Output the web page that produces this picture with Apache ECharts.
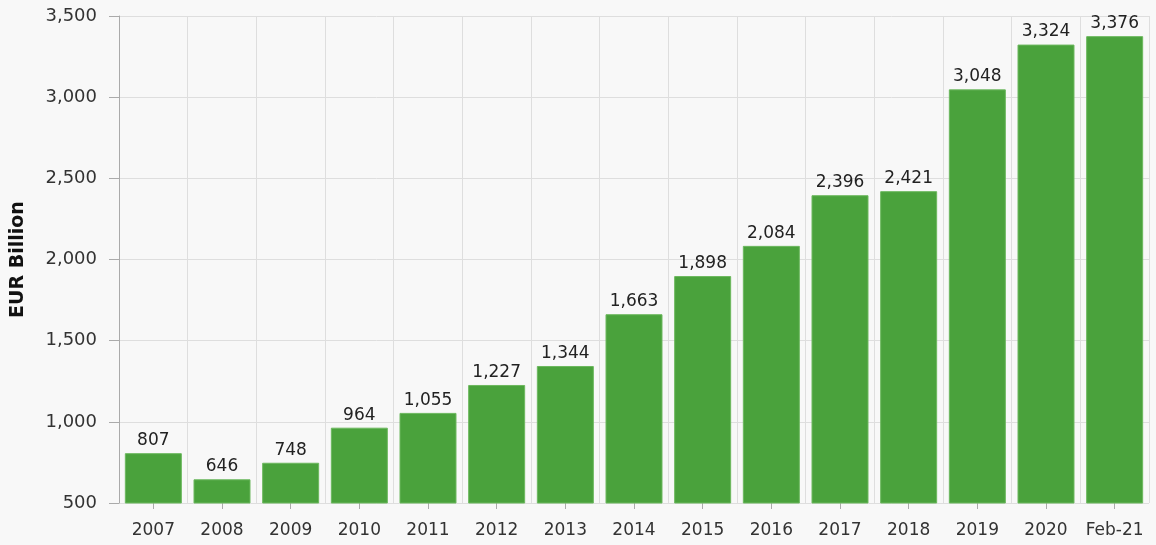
<!DOCTYPE html>
<html>
<head>
<meta charset="utf-8">
<script src="https://cdn.jsdelivr.net/npm/echarts@6/dist/echarts.min.js"></script>
<style>
  html, body { margin: 0; padding: 0; background: #f8f8f8; }
  #chart { width: 1156px; height: 545px; }
</style>
</head>
<body>
<div id="chart"></div>
<script>
const categories = ["2007", "2008", "2009", "2010", "2011", "2012", "2013", "2014", "2015", "2016", "2017", "2018", "2019", "2020", "Feb-21"];
const values = [807, 646, 748, 964, 1055, 1227, 1344, 1663, 1898, 2084, 2396, 2421, 3048, 3324, 3376];

const FONT = "DejaVu Sans";
const chart = echarts.init(document.getElementById("chart"));
const fmt = v => v.toLocaleString("en-US");

chart.setOption({
  backgroundColor: "#f8f8f8",
  animation: false,
  textStyle: { fontFamily: FONT },
  grid: { left: 119, right: 7, top: 16, bottom: 42 },
  xAxis: {
    type: "category",
    data: categories,
    axisLine: { show: false },
    axisTick: { show: true, interval: 0, alignWithLabel: true, length: 6, lineStyle: { color: "#aaa" } },
    axisLabel: { color: "#333", fontSize: 17, fontFamily: FONT, margin: 19, interval: 0 },
    splitLine: { show: true, interval: 0, lineStyle: { color: "#dedede" } }
  },
  yAxis: {
    type: "value",
    min: 500,
    max: 3500,
    interval: 500,
    name: "EUR Billion",
    nameLocation: "middle",
    nameGap: 91,
    nameTextStyle: { color: "#111", fontSize: 19, fontWeight: "bold", fontFamily: FONT },
    axisLine: { show: true, lineStyle: { color: "#aaa" } },
    axisTick: { show: true, length: 10, lineStyle: { color: "#aaa" } },
    axisLabel: { color: "#333", fontSize: 18, fontFamily: FONT, margin: 22, formatter: fmt },
    splitLine: { show: true, lineStyle: { color: "#dedede" } }
  },
  series: [{
    type: "bar",
    data: values,
    barCategoryGap: "17%",
    itemStyle: { color: "#4aa23c", borderColor: "#6cb85e", borderWidth: 1 },
    label: {
      show: true,
      position: "top",
      distance: 4,
      color: "#222",
      fontSize: 17,
      fontFamily: FONT,
      formatter: p => fmt(p.value)
    }
  }]
});
</script>
</body>
</html>
